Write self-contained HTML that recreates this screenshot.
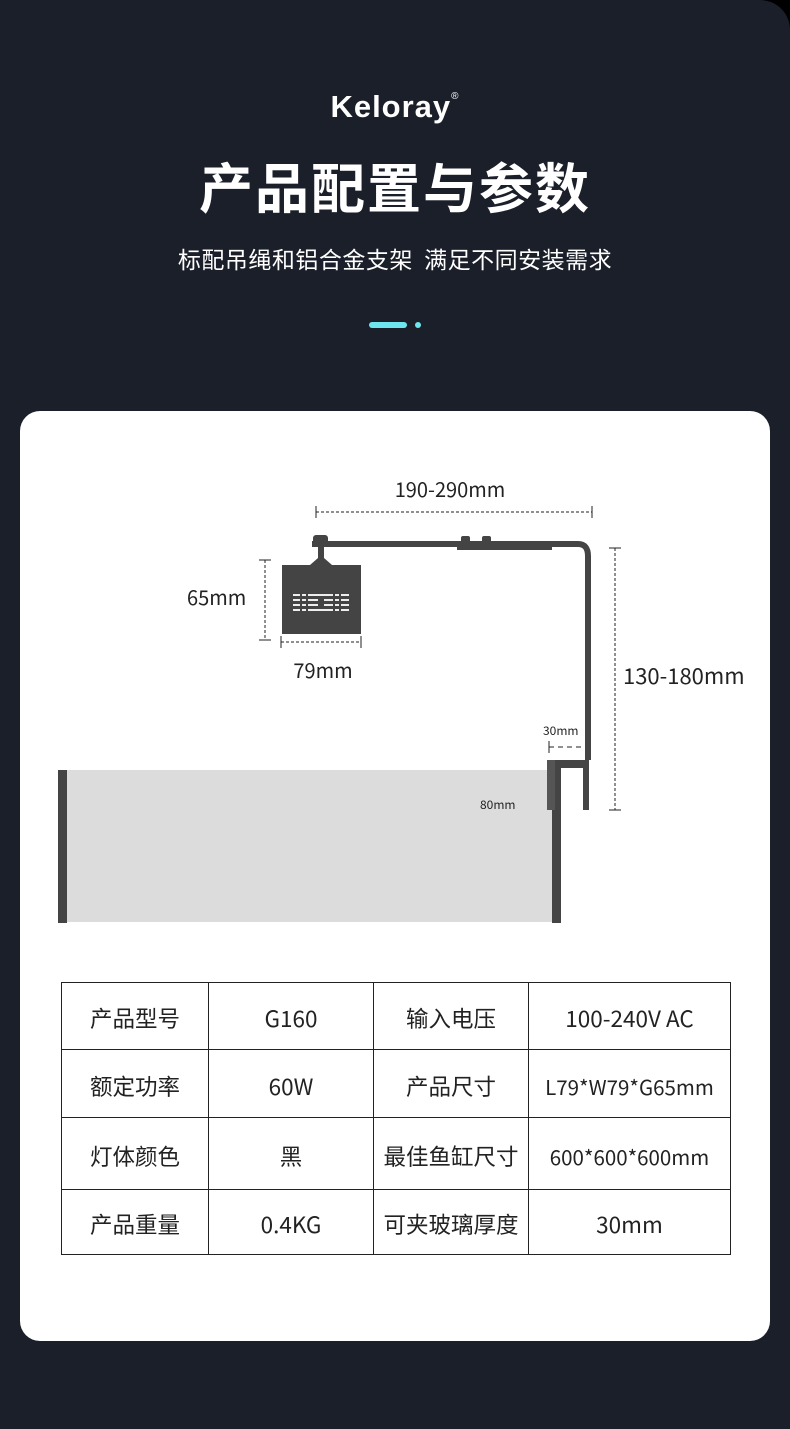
<!DOCTYPE html>
<html><head><meta charset="utf-8"><style>
html,body{margin:0;padding:0;background:#000;}
#p{position:relative;width:790px;height:1429px;background:#1b1f2a;border-top-right-radius:30px;overflow:hidden;font-family:"Noto Sans CJK SC","Liberation Sans",sans-serif;}
.t{position:absolute;white-space:nowrap;line-height:1.2;}
.card{position:absolute;left:20px;top:411px;width:750px;height:930px;background:#fff;border-radius:20px;}
table{position:absolute;left:61px;top:982px;border-collapse:collapse;font-size:22.5px;color:#222;font-family:"Noto Sans CJK SC",sans-serif;}
td{border:1px solid #222;text-align:center;padding:5px 0 0 0;line-height:1;vertical-align:middle;}
</style></head><body><div id="p">
<div class="t" style="left:0;width:790px;top:88px;text-align:center;color:#fff;font-size:31px;font-weight:bold;letter-spacing:1px;font-family:'Liberation Sans',sans-serif;">Keloray<sup style="font-size:10px;font-weight:normal;vertical-align:18px;">®</sup></div>
<div class="t" style="left:0;width:790px;top:153px;text-align:center;color:#fff;font-size:54px;font-weight:bold;letter-spacing:2px;">产品配置与参数</div>
<div class="t" style="left:0;width:790px;top:245px;text-align:center;color:#fff;font-size:23px;letter-spacing:0.5px;">标配吊绳和铝合金支架&nbsp; 满足不同安装需求</div>
<div style="position:absolute;left:369px;top:322px;width:38px;height:6px;border-radius:3px;background:#6ee6f0"></div>
<div style="position:absolute;left:415px;top:322px;width:6px;height:6px;border-radius:3px;background:#6ee6f0"></div>
<div class="card"></div>
<svg style="position:absolute;left:0;top:0" width="790" height="1429">
<g stroke="#222" stroke-width="1" fill="none">
<line x1="316" y1="512" x2="592" y2="512" stroke-dasharray="3,2"/><line x1="316" y1="506" x2="316" y2="518"/><line x1="592" y1="506" x2="592" y2="518"/>
<line x1="265" y1="560" x2="265" y2="640" stroke-dasharray="3,2"/><line x1="259" y1="560" x2="271" y2="560"/><line x1="259" y1="640" x2="271" y2="640"/>
<line x1="281" y1="642" x2="361" y2="642" stroke-dasharray="3,2"/><line x1="281" y1="636" x2="281" y2="648"/><line x1="361" y1="636" x2="361" y2="648"/>
<line x1="615" y1="548" x2="615" y2="810" stroke-dasharray="3,2"/><line x1="609" y1="548" x2="621" y2="548"/><line x1="609" y1="810" x2="621" y2="810"/>
<line x1="549" y1="747" x2="586" y2="747" stroke-dasharray="5,4"/><line x1="549" y1="741" x2="549" y2="753"/><line x1="586" y1="741" x2="586" y2="753"/>
<line x1="530" y1="798" x2="544" y2="798"/><line x1="530" y1="809" x2="544" y2="809"/><line x1="538" y1="798" x2="536" y2="809"/>
</g>
<rect x="67" y="770" width="486" height="152" fill="#dcdcdc"/>
<rect x="58" y="770" width="9" height="153" fill="#444"/>
<rect x="552" y="768" width="9" height="155" fill="#444"/>
<rect x="547" y="760" width="40" height="8" fill="#444"/>
<rect x="547" y="760" width="8" height="50" fill="#555"/>
<rect x="583" y="760" width="6" height="50" fill="#444"/>
<path d="M312 544 H578 Q588 544 588 556 V760" stroke="#444" stroke-width="6" fill="none"/>
<rect x="457" y="543" width="95" height="7" fill="#444"/>
<rect x="461" y="536" width="9" height="7" rx="2" fill="#444"/>
<rect x="482" y="536" width="9" height="7" rx="2" fill="#444"/>
<rect x="313" y="535" width="15" height="9" rx="3" fill="#444"/>
<rect x="318" y="544" width="6" height="17" fill="#444"/>
<path d="M310 565 L318 558 H324 L332 565Z" fill="#444"/>
<rect x="282" y="565" width="79" height="69" fill="#444"/>
<g fill="#eee"><rect x="293" y="594" width="56" height="2"/><rect x="293" y="599" width="56" height="2"/><rect x="293" y="604" width="56" height="2"/><rect x="293" y="609" width="56" height="2"/></g>
<g fill="#444"><rect x="300" y="592" width="2" height="20"/><rect x="306" y="592" width="2" height="20"/><rect x="333" y="592" width="2" height="20"/><rect x="339" y="592" width="2" height="20"/><rect x="318" y="597" width="6" height="10"/></g>
<g font-family="Noto Sans CJK SC, sans-serif" fill="#222">
<text x="450" y="497" font-size="20" text-anchor="middle">190-290mm</text>
<text x="187" y="605" font-size="20">65mm</text>
<text x="323" y="678" font-size="20" text-anchor="middle">79mm</text>
<text x="623" y="684" font-size="22">130-180mm</text>
<text x="543" y="735" font-size="12">30mm</text>
<text x="480" y="809" font-size="12">80mm</text>
</g>
</svg>
<table>
<tr style="height:67px"><td style="width:146px">产品型号</td><td style="width:164px">G160</td><td style="width:154px">输入电压</td><td style="width:201px">100-240V AC</td></tr>
<tr style="height:68px"><td>额定功率</td><td>60W</td><td>产品尺寸</td><td style="font-size:20.5px">L79*W79*G65mm</td></tr>
<tr style="height:72px"><td>灯体颜色</td><td>黑</td><td>最佳鱼缸尺寸</td><td style="font-size:20.5px">600*600*600mm</td></tr>
<tr style="height:65px"><td>产品重量</td><td>0.4KG</td><td>可夹玻璃厚度</td><td>30mm</td></tr>
</table>
</div></body></html>
